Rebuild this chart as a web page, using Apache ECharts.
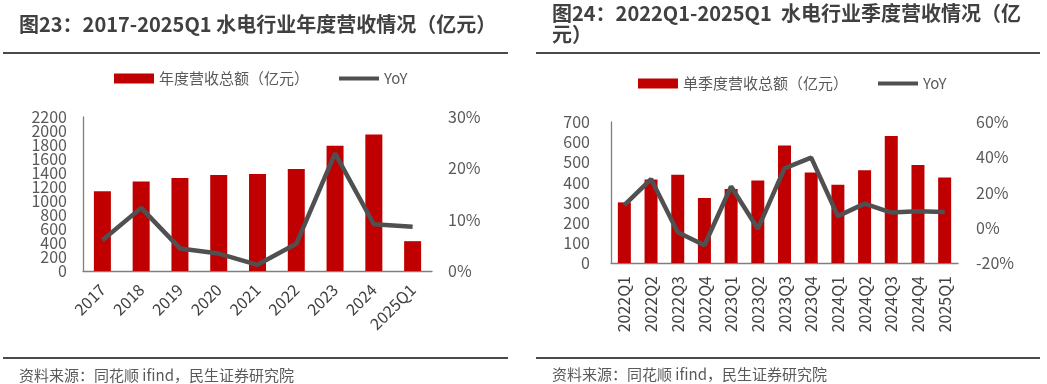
<!DOCTYPE html>
<html>
<head>
<meta charset="utf-8">
<script src="https://cdn.jsdelivr.net/npm/echarts@6/dist/echarts.min.js"></script>
<style>html,body{margin:0;padding:0;background:#fff;}#c{width:1047px;height:384px;}</style>
</head>
<body>
<div id="c"></div>
<script>
// Left chart: annual revenue
const yearCategories = ['2017','2018','2019','2020','2021','2022','2023','2024','2025Q1'];
const yearRevenue = [1140, 1277, 1330, 1372, 1386, 1457, 1788, 1949, 426];
const yearYoY = [6.0, 12.3, 4.4, 3.4, 1.2, 5.3, 22.9, 9.1, 8.6];
// Right chart: quarterly revenue
const quarterCategories = ['2022Q1','2022Q2','2022Q3','2022Q4','2023Q1','2023Q2','2023Q3','2023Q4','2024Q1','2024Q2','2024Q3','2024Q4','2025Q1'];
const quarterRevenue = [301, 414, 438, 323, 367, 409, 583, 449, 389, 460, 631, 487, 424];
const quarterYoY = [12.9, 27.6, -2.5, -9.9, 23.4, -0.6, 33.7, 39.8, 6.6, 13.7, 8.6, 9.3, 8.9];
// Left revenue axis: the ticks next to the ends, which ECharts drops when the labels crowd
const yearAxisMin = 0, yearAxisMax = 2200, yearAxisStep = 200;
const yearAxisInnerEnds = [yearAxisMin + yearAxisStep, yearAxisMax - yearAxisStep];

const FONT = '"Noto Sans CJK SC", "Noto Sans", sans-serif';
const RED = '#C00000';
const LINE = '#505050';
const LBL = '#595959';
const LINE_ICON = 'path://M0,0L0,0M0,3L40,3L40,7L0,7ZM40,10L40,10';

const chart = echarts.init(document.getElementById('c'), null, {renderer: 'canvas'});
chart.setOption({
  animation: false,
  textStyle: {fontFamily: FONT},
  title: [
    {text: '图23：2017-2025Q1 水电行业年度营收情况（亿元）', left: 14, top: 9,
     textStyle: {fontSize: 20, fontWeight: 'bold', color: '#404040', fontFamily: FONT}},
    {text: '图24：2022Q1-2025Q1  水电行业季度营收情况（亿\n元）', left: 547, top: -2,
     textStyle: {fontSize: 20, fontWeight: 'bold', color: '#404040', fontFamily: FONT, lineHeight: 21}},
    {text: '资料来源：同花顺 ifind，民生证券研究院', left: 14, top: 363,
     textStyle: {fontSize: 15, fontWeight: 'normal', color: LBL, fontFamily: FONT}},
    {text: '资料来源：同花顺 ifind，民生证券研究院', left: 547, top: 362,
     textStyle: {fontSize: 15, fontWeight: 'normal', color: LBL, fontFamily: FONT}}
  ],
  graphic: [
    {type: 'rect', shape: {x: 3, y: 52, width: 505, height: 2}, style: {fill: '#4a4a4a'}},
    {type: 'rect', shape: {x: 536, y: 52, width: 504, height: 2}, style: {fill: '#4a4a4a'}},
    {type: 'rect', shape: {x: 3, y: 357, width: 505, height: 2}, style: {fill: '#4a4a4a'}},
    {type: 'rect', shape: {x: 536, y: 357, width: 504, height: 2}, style: {fill: '#4a4a4a'}}
  ],
  legend: [
    {left: 109, top: 66, itemWidth: 40, itemHeight: 10, itemGap: 30,
     textStyle: {fontSize: 15, color: LBL, fontFamily: FONT},
     data: [{name: '年度营收总额（亿元）', icon: 'rect'}, {name: 'YoY', icon: LINE_ICON}]},
    {left: 633, top: 71, itemWidth: 40, itemHeight: 10, itemGap: 30,
     textStyle: {fontSize: 15, color: LBL, fontFamily: FONT},
     data: [{name: '单季度营收总额（亿元）', icon: 'rect'}, {name: 'YoY ', icon: LINE_ICON}]}
  ],
  grid: [
    {left: 83, top: 117, width: 349, height: 154},
    {left: 611, top: 122, width: 347, height: 141}
  ],
  xAxis: [
    {type: 'category', gridIndex: 0, data: yearCategories,
     axisLine: {lineStyle: {color: '#7f7f7f', width: 1.3}}, axisTick: {show: false},
     axisLabel: {interval: 0, rotate: 45, margin: 16, fontSize: 16, color: '#404040', fontFamily: FONT}},
    {type: 'category', gridIndex: 1, data: quarterCategories,
     axisLine: {lineStyle: {color: '#7f7f7f', width: 1.3}}, axisTick: {show: false},
     axisLabel: {interval: 0, rotate: 90, margin: 13, fontSize: 16, color: '#404040', fontFamily: FONT}}
  ],
  yAxis: [
    {type: 'value', gridIndex: 0, min: yearAxisMin, max: yearAxisMax, interval: yearAxisStep,
     axisLine: {show: true, lineStyle: {color: '#7f7f7f', width: 1.3}}, axisTick: {show: false}, splitLine: {show: false},
     axisLabel: {margin: 16, fontSize: 16, color: LBL, fontFamily: FONT, formatter: v => String(v),
                 showMinLabel: true, showMaxLabel: true}},
    {type: 'value', gridIndex: 0, min: 0, max: 30, interval: 10, position: 'right',
     axisLine: {show: false}, axisTick: {show: false}, splitLine: {show: false},
     axisLabel: {margin: 16, fontSize: 16, color: LBL, fontFamily: FONT, formatter: '{value}%'}},
    {type: 'value', gridIndex: 1, min: 0, max: 700, interval: 100,
     axisLine: {show: true, lineStyle: {color: '#7f7f7f', width: 1.3}}, axisTick: {show: false}, splitLine: {show: false},
     axisLabel: {margin: 21, fontSize: 16, color: LBL, fontFamily: FONT}},
    {type: 'value', gridIndex: 1, min: -20, max: 60, interval: 20, position: 'right',
     axisLine: {show: false}, axisTick: {show: false}, splitLine: {show: false},
     axisLabel: {margin: 18, fontSize: 16, color: LBL, fontFamily: FONT, formatter: '{value}%'}},
    // companion axis that only labels the two ticks next to the ends
    {type: 'value', gridIndex: 0, min: yearAxisMin, max: yearAxisMax, interval: yearAxisStep, position: 'left',
     axisLine: {show: false}, axisTick: {show: false}, splitLine: {show: false},
     axisLabel: {margin: 16, fontSize: 16, color: LBL, fontFamily: FONT,
                 showMinLabel: false, showMaxLabel: false,
                 formatter: v => (yearAxisInnerEnds.indexOf(v) >= 0 ? String(v) : '')}}
  ],
  series: [
    {name: '年度营收总额（亿元）', type: 'bar', xAxisIndex: 0, yAxisIndex: 0, data: yearRevenue,
     barWidth: 17, itemStyle: {color: RED}},
    {name: 'YoY', type: 'line', xAxisIndex: 0, yAxisIndex: 1, data: yearYoY,
     symbol: 'none', lineStyle: {color: LINE, width: 4.5}, itemStyle: {color: LINE}},
    {name: '单季度营收总额（亿元）', type: 'bar', xAxisIndex: 1, yAxisIndex: 2, data: quarterRevenue,
     barWidth: 13, itemStyle: {color: RED}},
    {name: 'YoY ', type: 'line', xAxisIndex: 1, yAxisIndex: 3, data: quarterYoY,
     symbol: 'none', lineStyle: {color: LINE, width: 4.5}, itemStyle: {color: LINE}}
  ]
});
</script>
</body>
</html>
